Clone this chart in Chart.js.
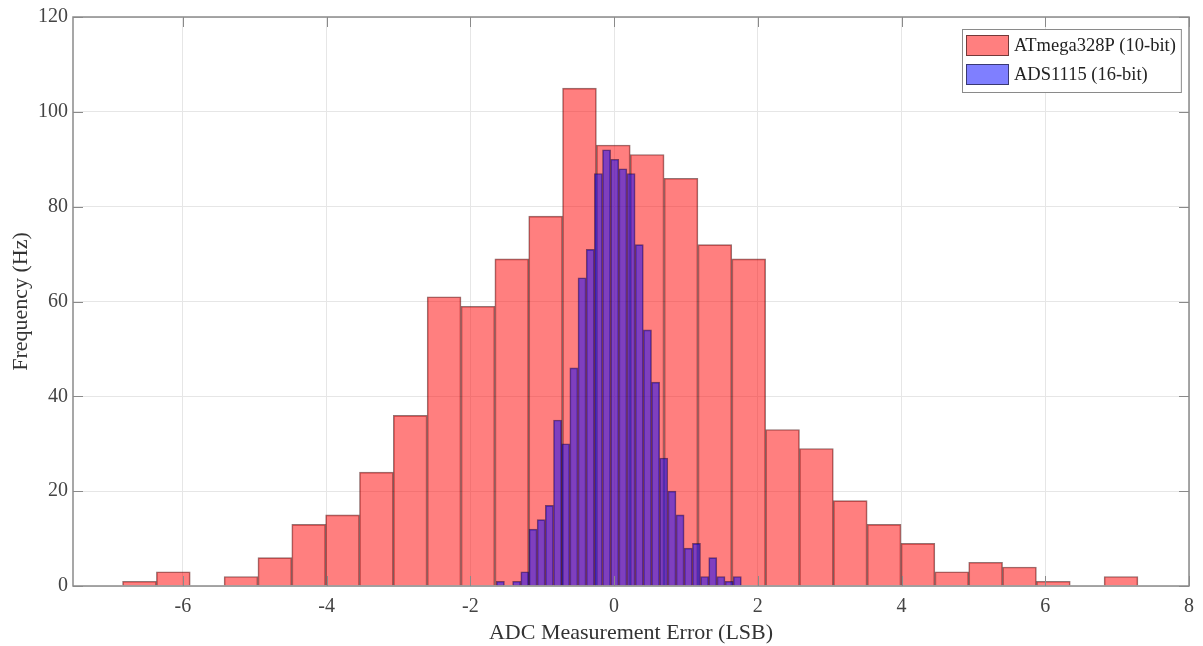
<!DOCTYPE html>
<html>
<head>
<meta charset="utf-8">
<script src="https://cdn.jsdelivr.net/npm/chart.js@4.4.1/dist/chart.umd.min.js"></script>
<style>
  html, body { margin: 0; padding: 0; background: #fff; }
  #wrap { width: 1203px; height: 646px; }
</style>
</head>
<body>
<div id="wrap"><canvas id="histChart" width="1203" height="646"></canvas></div>
<script>
// bin centres (LSB) and counts (1000 samples each)
const atmegaBins = [-6.605, -6.134, -5.663, -5.192, -4.721, -4.250, -3.779, -3.308, -2.837, -2.366,
                    -1.895, -1.424, -0.953, -0.482, -0.011, 0.460, 0.931, 1.402, 1.873, 2.344,
                    2.815, 3.286, 3.757, 4.228, 4.699, 5.170, 5.641, 6.112, 6.583, 7.054];
const atmegaCounts = [1, 3, 0, 2, 6, 13, 15, 24, 36, 61,
                      59, 69, 78, 105, 93, 91, 86, 72, 69, 33,
                      29, 18, 13, 9, 3, 5, 4, 1, 0, 2];

const adsBins = [-1.583, -1.469, -1.356, -1.242, -1.128, -1.015, -0.901, -0.787, -0.674, -0.560,
                 -0.446, -0.332, -0.219, -0.105, 0.009, 0.122, 0.236, 0.350, 0.464, 0.577,
                 0.691, 0.805, 0.918, 1.032, 1.146, 1.260, 1.373, 1.487, 1.601, 1.714];
const adsCounts = [1, 0, 1, 3, 12, 14, 17, 35, 30, 46,
                   65, 71, 87, 92, 90, 88, 87, 72, 54, 43,
                   27, 20, 15, 8, 9, 2, 6, 2, 1, 2];

const xTickValues = [-6, -4, -2, 0, 2, 4, 6, 8];
const yTickValues = [0, 20, 40, 60, 80, 100, 120];

const SERIF = "'Liberation Serif', 'Times New Roman', serif";
const X_MIN = -7.53, X_MAX = 8;

const toPoints = (xs, ys) => xs.map((x, i) => ({ x: x, y: ys[i] }));

// box round the axes plus inward tick marks on all four sides
const matlabFrame = {
    id: "matlabFrame",
    afterDatasetsDraw(chart) {
        const { ctx, chartArea: a, scales } = chart;
        const tl = 10;
        ctx.save();
        ctx.strokeStyle = "#8a8a8a";
        ctx.lineWidth = 1;
        ctx.beginPath();
        scales.x.ticks.forEach(t => {
            const px = Math.round(scales.x.getPixelForValue(t.value)) + 0.5;
            ctx.moveTo(px, a.bottom); ctx.lineTo(px, a.bottom - tl);
            ctx.moveTo(px, a.top); ctx.lineTo(px, a.top + tl);
        });
        scales.y.ticks.forEach(t => {
            const py = Math.round(scales.y.getPixelForValue(t.value)) + 0.5;
            ctx.moveTo(a.left, py); ctx.lineTo(a.left + tl, py);
            ctx.moveTo(a.right, py); ctx.lineTo(a.right - tl, py);
        });
        ctx.stroke();
        ctx.lineWidth = 1.5;
        ctx.strokeRect(a.left, a.top, a.right - a.left, a.bottom - a.top);
        ctx.restore();
    }
};

// legend drawn inside the axes, top right, with a border
const boxLegend = {
    id: "boxLegend",
    afterDraw(chart) {
        const { ctx, chartArea: a } = chart;
        const items = chart.data.datasets;
        ctx.save();
        ctx.font = "18.5px " + SERIF;
        const textW = Math.max(...items.map(d => ctx.measureText(d.label).width));
        const sw = 43, sh = 21, rowGap = 8, padL = 4, gap = 5, padR = 5, padT = 6, padB = 7;
        const w = padL + sw + gap + textW + padR;
        const h = padT + items.length * sh + (items.length - 1) * rowGap + padB;
        const x0 = Math.round(a.right - 8 - w), y0 = Math.round(a.top + 12);
        ctx.fillStyle = "#fff";
        ctx.fillRect(x0, y0, w, h);
        ctx.strokeStyle = "#8a8a8a";
        ctx.lineWidth = 1;
        ctx.strokeRect(x0 + 0.5, y0 + 0.5, w, h);
        items.forEach((d, i) => {
            const y = y0 + padT + i * (sh + rowGap);
            ctx.fillStyle = d.backgroundColor;
            ctx.fillRect(x0 + padL, y, sw, sh);
            ctx.strokeStyle = "rgba(0,0,0,0.55)";
            ctx.strokeRect(x0 + padL + 0.5, y + 0.5, sw - 1, sh - 1);
            ctx.fillStyle = "#222";
            ctx.textBaseline = "middle";
            ctx.fillText(d.label, x0 + padL + sw + gap, y + sh / 2 + 1);
        });
        ctx.restore();
    }
};

const ctx = document.getElementById("histChart").getContext("2d");

new Chart(ctx, {
    type: "bar",
    data: {
        datasets: [{
            label: "ATmega328P (10-bit)",
            data: toPoints(atmegaBins, atmegaCounts),
            xAxisID: "x",
            backgroundColor: "rgba(255,0,0,0.5)",
            borderColor: "rgba(60,0,0,0.55)",
            borderWidth: 1,
            barPercentage: 1,
            categoryPercentage: 1,
            grouped: false,
            order: 2
        }, {
            label: "ADS1115 (16-bit)",
            data: toPoints(adsBins, adsCounts),
            xAxisID: "x2",
            backgroundColor: "rgba(0,0,255,0.5)",
            borderColor: "rgba(20,0,60,0.55)",
            borderWidth: 1,
            barPercentage: 1,
            categoryPercentage: 1,
            grouped: false,
            order: 1
        }]
    },
    options: {
        responsive: false,
        animation: false,
        devicePixelRatio: 1,
        layout: { padding: { top: 15, right: 10, left: 0, bottom: 0 } },
        plugins: {
            legend: { display: false },
            tooltip: { enabled: false }
        },
        scales: {
            x: {
                type: "linear",
                min: X_MIN,
                max: X_MAX,
                offset: false,
                afterBuildTicks: s => { s.ticks = xTickValues.map(v => ({ value: v })); },
                afterFit: s => { s.height = 60; },
                grid: { color: "#e6e6e6", drawTicks: false, offset: false },
                border: { display: false },
                ticks: {
                    padding: 9,
                    color: "#444",
                    font: { family: SERIF, size: 20 }
                },
                title: {
                    display: true,
                    text: "ADC Measurement Error (LSB)",
                    color: "#333",
                    font: { family: SERIF, size: 22 },
                    padding: 0
                }
            },
            x2: {
                type: "linear",
                display: false,
                min: X_MIN,
                max: X_MAX,
                offset: false,
                grid: { offset: false }
            },
            y: {
                min: 0,
                max: 120,
                afterBuildTicks: s => { s.ticks = yTickValues.map(v => ({ value: v })); },
                afterFit: s => { s.width = 73; },
                grid: { color: "#e6e6e6", drawTicks: false },
                border: { display: false },
                ticks: {
                    padding: 5,
                    color: "#444",
                    font: { family: SERIF, size: 20 }
                },
                title: {
                    display: true,
                    text: "Frequency (Hz)",
                    color: "#333",
                    font: { family: SERIF, size: 22 },
                    padding: { top: 8, bottom: 0 }
                }
            }
        }
    },
    plugins: [matlabFrame, boxLegend]
});
</script>
</body>
</html>
